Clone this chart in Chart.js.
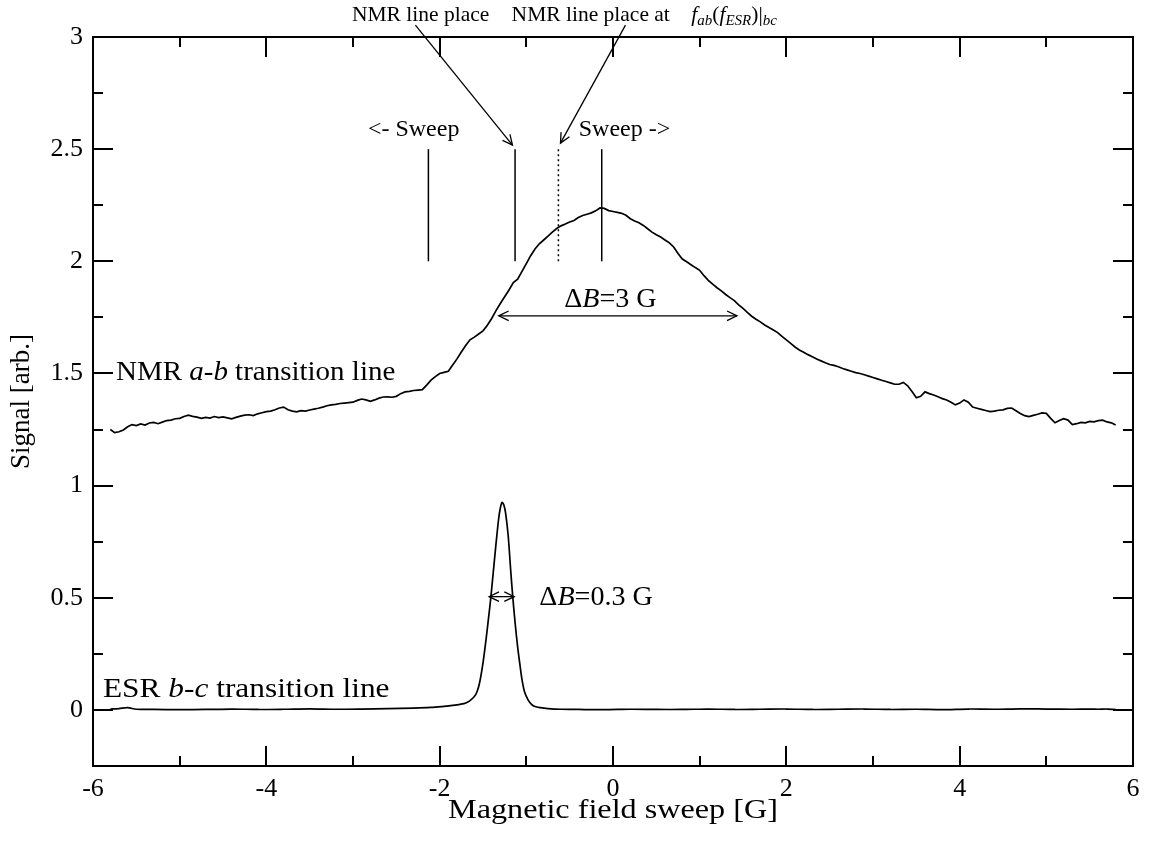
<!DOCTYPE html>
<html><head><meta charset="utf-8">
<script src="https://cdn.jsdelivr.net/npm/chart.js@4.4.1/dist/chart.umd.min.js"></script>
<style>html,body{margin:0;padding:0;background:#fff}#wrap{width:1164px;height:841px}</style>
</head><body><div id="wrap"><canvas id="c" width="1164" height="841"></canvas></div>
<script>
// ---- data ----
const nmrX = [-5.80,-5.75,-5.70,-5.65,-5.60,-5.55,-5.50,-5.45,-5.40,-5.35,-5.30,-5.25,-5.20,-5.15,-5.10,-5.05,-5.00,-4.95,-4.90,-4.85,-4.80,-4.75,-4.70,-4.65,-4.60,-4.55,-4.50,-4.45,-4.40,-4.35,-4.30,-4.25,-4.20,-4.15,-4.10,-4.05,-4.00,-3.95,-3.90,-3.85,-3.80,-3.75,-3.70,-3.65,-3.60,-3.55,-3.50,-3.45,-3.40,-3.35,-3.30,-3.25,-3.20,-3.15,-3.10,-3.05,-3.00,-2.95,-2.90,-2.85,-2.80,-2.75,-2.70,-2.65,-2.60,-2.55,-2.50,-2.45,-2.40,-2.35,-2.30,-2.25,-2.20,-2.15,-2.10,-2.05,-2.00,-1.95,-1.90,-1.85,-1.80,-1.75,-1.70,-1.65,-1.60,-1.55,-1.50,-1.45,-1.40,-1.35,-1.30,-1.25,-1.20,-1.15,-1.10,-1.05,-1.00,-0.95,-0.90,-0.85,-0.80,-0.75,-0.70,-0.65,-0.60,-0.55,-0.50,-0.45,-0.40,-0.35,-0.30,-0.25,-0.20,-0.15,-0.10,-0.05,0.00,0.05,0.10,0.15,0.20,0.25,0.30,0.35,0.40,0.45,0.50,0.55,0.60,0.65,0.70,0.75,0.80,0.85,0.90,0.95,1.00,1.05,1.10,1.15,1.20,1.25,1.30,1.35,1.40,1.45,1.50,1.55,1.60,1.65,1.70,1.75,1.80,1.85,1.90,1.95,2.00,2.05,2.10,2.15,2.20,2.25,2.30,2.35,2.40,2.45,2.50,2.55,2.60,2.65,2.70,2.75,2.80,2.85,2.90,2.95,3.00,3.05,3.10,3.15,3.20,3.25,3.30,3.35,3.40,3.45,3.50,3.55,3.60,3.65,3.70,3.75,3.80,3.85,3.90,3.95,4.00,4.05,4.10,4.15,4.20,4.25,4.30,4.35,4.40,4.45,4.50,4.55,4.60,4.65,4.70,4.75,4.80,4.85,4.90,4.95,5.00,5.05,5.10,5.15,5.20,5.25,5.30,5.35,5.40,5.45,5.50,5.55,5.60,5.65,5.70,5.75,5.80];
const nmrY = [1.250,1.236,1.240,1.248,1.262,1.272,1.268,1.275,1.270,1.279,1.282,1.276,1.283,1.290,1.292,1.298,1.300,1.308,1.314,1.309,1.305,1.300,1.304,1.301,1.308,1.303,1.306,1.302,1.298,1.304,1.310,1.314,1.316,1.312,1.320,1.325,1.330,1.332,1.338,1.346,1.350,1.338,1.332,1.329,1.334,1.332,1.337,1.341,1.345,1.350,1.356,1.360,1.362,1.366,1.368,1.370,1.372,1.380,1.386,1.382,1.376,1.382,1.390,1.395,1.396,1.394,1.398,1.410,1.418,1.420,1.424,1.426,1.428,1.448,1.470,1.486,1.500,1.505,1.510,1.538,1.565,1.596,1.625,1.650,1.662,1.676,1.690,1.715,1.745,1.780,1.812,1.842,1.872,1.905,1.920,1.955,1.990,2.025,2.055,2.078,2.095,2.112,2.130,2.146,2.158,2.166,2.175,2.182,2.195,2.204,2.210,2.216,2.225,2.238,2.236,2.226,2.222,2.218,2.214,2.205,2.190,2.180,2.172,2.160,2.145,2.130,2.118,2.108,2.095,2.082,2.064,2.035,2.010,1.998,1.985,1.972,1.960,1.936,1.915,1.898,1.882,1.868,1.852,1.838,1.825,1.806,1.790,1.772,1.755,1.742,1.730,1.716,1.705,1.694,1.682,1.665,1.650,1.634,1.618,1.605,1.595,1.584,1.575,1.564,1.556,1.548,1.540,1.536,1.530,1.522,1.516,1.510,1.504,1.500,1.494,1.488,1.482,1.476,1.470,1.464,1.458,1.452,1.452,1.460,1.445,1.420,1.392,1.398,1.418,1.410,1.404,1.396,1.388,1.382,1.372,1.360,1.368,1.382,1.372,1.350,1.345,1.340,1.335,1.330,1.332,1.336,1.338,1.344,1.346,1.334,1.322,1.312,1.308,1.313,1.318,1.324,1.322,1.300,1.280,1.290,1.298,1.292,1.272,1.276,1.282,1.280,1.286,1.284,1.290,1.292,1.284,1.280,1.270];
const esrX = [-5.8,-5.7,-5.6,-5.5,-5.3,-5.0,-4.7,-4.4,-4.1,-3.8,-3.5,-3.2,-2.9,-2.6,-2.3,-2.1,-1.95,-1.85,-1.78,-1.72,-1.68,-1.64,-1.6,-1.57,-1.54,-1.5,-1.46,-1.43,-1.41,-1.38,-1.35,-1.32,-1.3,-1.28,-1.26,-1.24,-1.21,-1.18,-1.16,-1.13,-1.1,-1.07,-1.05,-1.02,-0.98,-0.94,-0.9,-0.84,-0.75,-0.6,-0.4,-0.1,0.2,0.5,0.8,1.1,1.4,1.7,2.0,2.3,2.6,2.9,3.2,3.5,3.8,4.1,4.4,4.7,5.0,5.3,5.5,5.6,5.7,5.8];
const esrY = [0.004,0.006,0.010,0.003,0.002,0.001,0.002,0.004,0.002,0.003,0.005,0.003,0.004,0.006,0.008,0.011,0.016,0.020,0.024,0.028,0.034,0.045,0.060,0.080,0.12,0.21,0.33,0.43,0.50,0.62,0.74,0.85,0.90,0.925,0.915,0.88,0.78,0.62,0.52,0.39,0.28,0.19,0.135,0.08,0.045,0.025,0.015,0.010,0.006,0.003,0.002,0.001,0.003,0.002,0.002,0.004,0.002,0.003,0.004,0.002,0.003,0.004,0.002,0.003,0.001,0.004,0.003,0.005,0.004,0.003,0.004,0.003,0.004,0.002];
const xMajor = [-6,-4,-2,0,2,4,6];
const xMinor = [-5,-3,-1,1,3,5];
const yMajor = [0,0.5,1,1.5,2,2.5,3];
const yMinor = [-0.25,0.25,0.75,1.25,1.75,2.25,2.75];
const markerSolid = [-2.13,-1.13,-0.13];
const markerDotted = [-0.63];
const nmrWidth = [-1.318,1.430];   // ΔB = 3 G
const esrWidth = [-1.43,-1.14];    // ΔB = 0.3 G
const xTitle = 'Magnetic field sweep [G]';
const yTitle = 'Signal [arb.]';

const FONT = "'Liberation Serif','Times New Roman',serif";
Chart.defaults.font.family = FONT;
Chart.defaults.color = '#000';

function rich(ctx, x, y, segs, size, align, sx) {
  sx = sx || 1;
  const subSize = Math.round(size * 0.68);
  let total = 0;
  const parts = segs.map(s => {
    const sz = s.sub ? subSize : size;
    ctx.font = (s.i ? 'italic ' : '') + sz + 'px ' + FONT;
    const w = ctx.measureText(s.t).width * sx;
    total += w;
    return {s, sz, w};
  });
  let cx = align === 'center' ? x - total / 2 : (align === 'right' ? x - total : x);
  ctx.textBaseline = 'middle';
  ctx.textAlign = 'left';
  parts.forEach(p => {
    ctx.font = (p.s.i ? 'italic ' : '') + p.sz + 'px ' + FONT;
    ctx.save();
    ctx.translate(cx, y + (p.s.sub ? size * 0.3 : 0));
    ctx.scale(sx, 1);
    ctx.fillText(p.s.t, 0, 0);
    ctx.restore();
    cx += p.w;
  });
}
function arrowHead(ctx, x1, y1, x2, y2, len) {
  const a = Math.atan2(y2 - y1, x2 - x1);
  const sp = 0.45;
  ctx.beginPath();
  ctx.moveTo(x2 - len * Math.cos(a - sp), y2 - len * Math.sin(a - sp));
  ctx.lineTo(x2, y2);
  ctx.lineTo(x2 - len * Math.cos(a + sp), y2 - len * Math.sin(a + sp));
  ctx.stroke();
}
function arrow(ctx, x1, y1, x2, y2, both) {
  ctx.beginPath(); ctx.moveTo(x1, y1); ctx.lineTo(x2, y2); ctx.stroke();
  arrowHead(ctx, x1, y1, x2, y2, 11);
  if (both) arrowHead(ctx, x2, y2, x1, y1, 11);
}

const decor = {
  id: 'decor',
  afterDraw(chart) {
    const ctx = chart.ctx, a = chart.chartArea;
    const X = chart.scales.x, Y = chart.scales.y;
    const px = v => X.getPixelForValue(v), py = v => Y.getPixelForValue(v);
    ctx.save();
    ctx.strokeStyle = '#000'; ctx.fillStyle = '#000';
    ctx.lineWidth = 2;
    ctx.strokeRect(a.left, a.top, a.right - a.left, a.bottom - a.top);
    const tick = (vals, len) => {
      vals.forEach(v => {
        const x = Math.round(px(v));
        ctx.beginPath(); ctx.moveTo(x, a.bottom); ctx.lineTo(x, a.bottom - len);
        ctx.moveTo(x, a.top); ctx.lineTo(x, a.top + len); ctx.stroke();
      });
    };
    const ytick = (vals, len) => {
      vals.forEach(v => {
        const y = Math.round(py(v));
        ctx.beginPath(); ctx.moveTo(a.left, y); ctx.lineTo(a.left + len, y);
        ctx.moveTo(a.right, y); ctx.lineTo(a.right - len, y); ctx.stroke();
      });
    };
    tick(xMajor, 20); tick(xMinor, 10); ytick(yMajor, 20); ytick(yMinor, 10);

    ctx.lineWidth = 1.5;
    markerSolid.forEach(v => {
      ctx.beginPath(); ctx.moveTo(px(v), py(2.0)); ctx.lineTo(px(v), py(2.5)); ctx.stroke();
    });
    ctx.setLineDash([2, 3]);
    markerDotted.forEach(v => {
      ctx.beginPath(); ctx.moveTo(px(v), py(2.0)); ctx.lineTo(px(v), py(2.5)); ctx.stroke();
    });
    ctx.setLineDash([]);

    ctx.lineWidth = 1.3;
    arrow(ctx, px(-2.28), py(3.053), px(-1.16), py(2.518), false);
    arrow(ctx, px(0.144), py(3.053), px(-0.606), py(2.527), false);
    arrow(ctx, px(nmrWidth[0]), py(1.757), px(nmrWidth[1]), py(1.757), true);
    arrow(ctx, px(esrWidth[0]), py(0.505), px(esrWidth[1]), py(0.505), true);

    rich(ctx, px(-2.22), py(3.098), [{t:'NMR line place'}], 21.5, 'center');
    rich(ctx, px(-1.17), py(3.098), [{t:'NMR line place at    '},{t:'f',i:1},{t:'ab',i:1,sub:1},{t:'('},{t:'f',i:1},{t:'ESR',i:1,sub:1},{t:')|'},{t:'bc',i:1,sub:1}], 21.5, 'left');
    rich(ctx, px(-2.30), py(2.585), [{t:'<- Sweep'}], 24, 'center');
    rich(ctx, px(0.133), py(2.585), [{t:'Sweep ->'}], 24, 'center');
    rich(ctx, px(-0.03), py(1.83), [{t:'\u0394'},{t:'B',i:1},{t:'=3 G'}], 27, 'center', 1.04);
    rich(ctx, px(-0.85), py(0.50), [{t:'\u0394'},{t:'B',i:1},{t:'=0.3 G'}], 27, 'left', 1.04);
    rich(ctx, px(-5.735), py(1.502), [{t:'NMR '},{t:'a-b',i:1},{t:' transition line'}], 28, 'left', 1.035);
    rich(ctx, px(-5.885), py(0.089), [{t:'ESR '},{t:'b-c',i:1},{t:' transition line'}], 28, 'left', 1.12);

    // axis titles
    rich(ctx, (a.left + a.right) / 2, 811, [{t: xTitle}], 28, 'center', 1.15);
    ctx.save();
    ctx.translate(22, (a.top + a.bottom) / 2);
    ctx.rotate(-Math.PI / 2);
    rich(ctx, 0, 0, [{t: yTitle}], 27, 'center', 1.0);
    ctx.restore();
    ctx.restore();
  }
};

new Chart(document.getElementById('c'), {
  type: 'scatter',
  data: { datasets: [
    { data: nmrX.map((x, i) => ({x, y: nmrY[i]})), showLine: true, borderColor: '#000', borderWidth: 1.7, pointRadius: 0, tension: 0 },
    { data: esrX.map((x, i) => ({x, y: esrY[i]})), showLine: true, borderColor: '#000', borderWidth: 1.7, pointRadius: 0, tension: 0.3 }
  ]},
  options: {
    responsive: false, animation: false, devicePixelRatio: 1,
    layout: { padding: { top: 37, right: 31, left: 0, bottom: 0 } },
    plugins: { legend: { display: false }, tooltip: { enabled: false } },
    scales: {
      x: {
        type: 'linear', min: -6, max: 6,
        afterBuildTicks: s => { s.ticks = xMajor.map(v => ({value: v})); },
        afterFit: s => { s.height = 75; },
        ticks: { font: { size: 26 }, color: '#000', padding: 8, maxRotation: 0, autoSkip: false, callback: v => String(v) },
        grid: { display: false, drawTicks: false }, border: { display: false },
        title: { display: false }
      },
      y: {
        type: 'linear', min: -0.25, max: 3,
        afterBuildTicks: s => { s.ticks = yMajor.map(v => ({value: v})); },
        afterFit: s => { s.width = 93; },
        ticks: { font: { size: 26 }, color: '#000', padding: 10, autoSkip: false, callback: v => String(v) },
        grid: { display: false, drawTicks: false }, border: { display: false },
        title: { display: false }
      }
    }
  },
  plugins: [decor]
});
</script></body></html>
